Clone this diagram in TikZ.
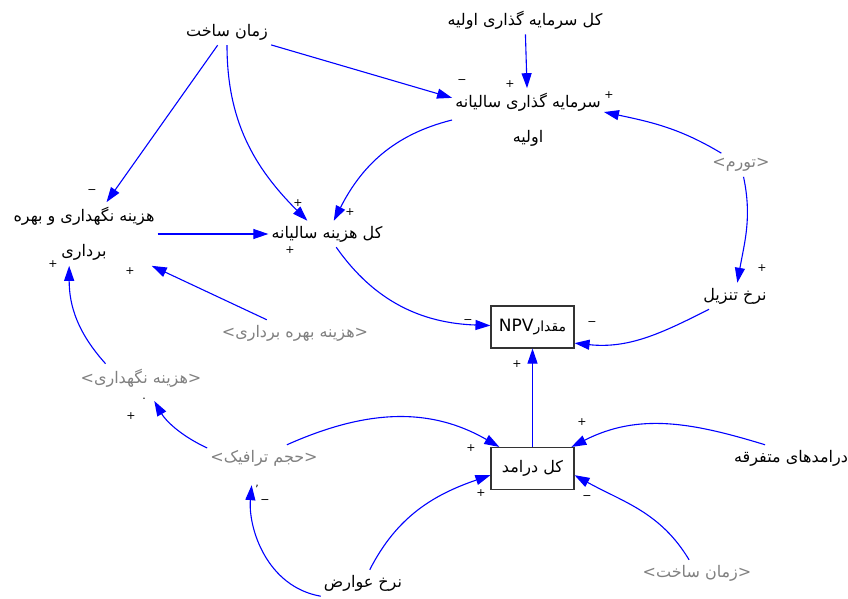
\documentclass[tikz,border=0pt]{standalone}
\usepackage{fontspec}
\setmainfont{DejaVu Sans}
\newfontfamily\arabicfont[Script=Arabic]{DejaVu Sans}
\TeXXeTstate=1
\usetikzlibrary{arrows.meta}
\newcommand{\fatext}[1]{{\arabicfont\beginR #1\endR}}

\begin{document}
\begin{tikzpicture}[x=1pt,y=1pt,
  >={Triangle[length=15pt,width=10pt]},
  var/.style={inner xsep=3pt,inner ysep=5pt,font=\fontsize{16}{35}\selectfont,align=center},
  shadow/.style={var,text=black!50},
  box/.style={var,draw=black!80,line width=1.1pt,minimum width=83pt,minimum height=42pt},
  link/.style={->,blue,line width=1.1pt},
  pol/.style={inner sep=0pt,font=\fontsize{11}{11}\selectfont}]
  \useasboundingbox (0,0) rectangle (848,598);
  % variables
  \node[var] (zs) at (227,566) {\fatext{زمان ساخت}};
  \node[var] (ks) at (525,578) {\fatext{کل سرمایه گذاری اولیه}};
  \node[var] (sg) at (528,478) {\fatext{سرمایه گذاری سالیانه}\\ \fatext{اولیه}};
  \node[shadow] (tv) at (741,433) {<\fatext{تورم}>};
  \node[var] (hn) at (84,364) {\fatext{هزینه نگهداری و بهره}\\ \fatext{برداری}};
  \node[var] (kh) at (327,364) {\fatext{کل هزینه سالیانه}};
  \node[var] (nt) at (735,302) {\fatext{نرخ تنزیل}};
  \node[shadow] (hb) at (295,265) {<\fatext{هزینه بهره برداری}>};
  \node[box] (npv) at (532.5,271)
    {\fatext{\fontsize{14}{14}\selectfont مقدار\beginL\normalfont\fontsize{17}{17}\selectfont NPV\endL}};
  \node[shadow] (hng) at (141,220) {<\fatext{هزینه نگهداری}>};
  \node[shadow] (ht) at (264,140) {<\fatext{حجم ترافیک}>};
  \node[box] (kd) at (532.5,129.5) {\fatext{کل درامد}};
  \node[var] (dm) at (791,140) {\fatext{درامدهای متفرقه}};
  \node[var] (na) at (363,15) {\fatext{نرخ عوارض}};
  \node[shadow] (zs2) at (697,25) {<\fatext{زمان ساخت}>};
  % links
  \draw[link] (zs) -- (hn);
  \draw[link] (zs.south) to[out=-90,in=135] (kh.146);
  \draw[link] (zs) -- (sg);
  \draw[link] (ks) -- (sg);
  \draw[link] (tv) to[out=149,in=-12] (sg.6);
  \draw[link] (tv) to[out=-78,in=80] (nt);
  \draw[link] (sg.west) to[out=194,in=63] (kh);
  \draw[link] (hn) -- (kh);
  \draw[link] (kh) to[out=-55,in=178] (npv);
  \draw[link] (nt) to[out=207,in=-6] (npv.-21);
  \draw[link] (hb) -- (hn);
  \draw[link] (hng.158) to[out=132,in=-90] (hn.-115);
  \draw[link,shorten >=10pt] (ht.170) to[out=155,in=-60] (hng);
  \draw[link] (ht.30) to[out=24,in=150] (kd.147);
  \draw[link] (dm.153) to[out=163,in=27] (kd.29);
  \draw[link] (kd) -- (npv);
  \draw[link] (na) to[out=63,in=-161] (kd.-171);
  \draw[link] (zs2) to[out=121,in=-29] (kd.-9);
  \draw[link,shorten >=14pt] (na.south west) to[out=170,in=-95] (ht.-130);
  % polarities
  \node[pol] (p1) at (92,406) {−};
  \node[pol] (p2) at (298,395) {+};
  \node[pol] (p3) at (462,516) {−};
  \node[pol] (p4) at (510,514) {+};
  \node[pol] (p5) at (609,503) {+};
  \node[pol] (p6) at (762,330) {+};
  \node[pol] (p7) at (350,386) {+};
  \node[pol] (p8) at (290,348) {+};
  \node[pol] (p9) at (468,276) {−};
  \node[pol] (p10) at (592,274) {−};
  \node[pol] (p11) at (130,327) {+};
  \node[pol] (p12) at (53,334) {+};
  \node[pol] (p13) at (131,182) {+};
  \node[pol] (p14) at (471,150) {+};
  \node[pol] (p15) at (582,176) {+};
  \node[pol] (p16) at (517,234) {+};
  \node[pol] (p17) at (481,105) {+};
  \node[pol] (p18) at (587,100) {−};
  \node[pol] (p19) at (265,96) {−};
  \node[pol] (dot1) at (144,199) {.};
  \node[pol] (cm1) at (257,112) {,};
\end{tikzpicture}
\end{document}
